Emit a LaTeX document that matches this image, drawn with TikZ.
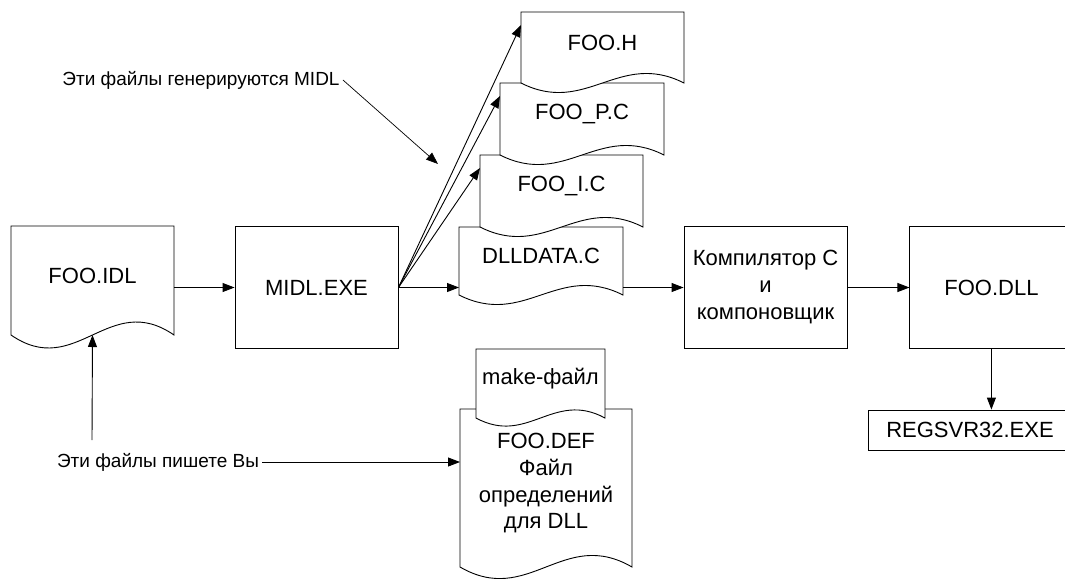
\documentclass[tikz,border=0pt]{standalone}
\usepackage{fontspec}
\setmainfont{Liberation Sans}
\usetikzlibrary{arrows.meta, positioning, calc}

\newcommand{\docfile}[6]{% name, top left, width, height, wave, text
  \filldraw[docline] (#2) -- ++(#3,0) -- ++(0,#4)
    .. controls +(-0.4*#3,-#5) and +(0.4*#3,#5) .. ++(-#3,0) -- cycle;
  \node[docarea, minimum width=#3, minimum height=#4, anchor=north west] (#1) at (#2) {};
  \node[doctext] (#1-t) at ([yshift=5pt]#1.center) {#6};
}

\begin{document}
\begin{tikzpicture}[x=1pt, y=-1pt, line width=0.9pt, node distance={62pt},
    box/.style = {draw, fill=white, minimum width=163, minimum height=122, inner sep=0, align=center, font=\fontsize{22}{27}\selectfont},
    docline/.style = {draw, fill=white},
    docarea/.style = {inner sep=0, outer sep=0},
    doctext/.style = {align=center, font=\fontsize{22}{27}\selectfont},
    note/.style = {font=\fontsize{19}{23}\selectfont, inner sep=3pt},
    arr/.style = {-{Triangle[length=12pt,width=9pt]}}]
            \path[use as bounding box] (0,0) rectangle (1065,579);
            \clip (0,0) rectangle (1065,579);

            \docfile{idl}{11,226}{163}{109}{45}{FOO.IDL}
            \node[box] (midl) at (316.5,287.5) {MIDL.EXE};

            \docfile{dlldata}{459,227}{164}{68}{33}{DLLDATA.C}
            \docfile{fooi}{480,155}{163}{72}{33}{FOO\_I.C}
            \docfile{foop}{500,83}{164}{72}{33}{FOO\_P.C}
            \docfile{fooh}{521,12}{163}{71}{33}{FOO.H}

            \docfile{def}{460,409}{172}{158}{40}{FOO.DEF\\Файл\\определений\\для DLL}
            \docfile{make}{476,349}{129}{69}{28}{make-файл}

            \node[box] (cc) at (765.5,287.5) {Компилятор С\\и\\компоновщик};
            \node[box] (dll) [right=of cc] {FOO.DLL};
            \node[box, minimum width=204, minimum height=40] (reg) at (970,430) {REGSVR32.EXE};

            \node[note] (genlabel) at (201,80) {Эти файлы генерируются MIDL};
            \coordinate (gentip) at (438,164);
            \node[note] (ownlabel) at (158,462) {Эти файлы пишете Вы};
            \coordinate (ownsrc) at (92,440);

            \draw[arr] (midl.west -| idl.east) -- (midl.west);
            \draw[arr] (midl.east) -- (midl.east -| dlldata.west);
            \draw[arr] (midl.east) -- ($(fooi.north west)+(0,13)$);
            \draw[arr] (midl.east) -- ($(foop.north west)+(0,13)$);
            \draw[arr] (midl.east) -- ($(fooh.north west)+(0,13)$);
            \draw[arr] (cc.west -| dlldata.east) -- (cc.west);
            \draw[arr] (cc) -- (dll);
            \draw[arr] (dll.south) -- (dll.south |- reg.north);

            \draw[arr, line width=0.7pt] (genlabel.east) -- (gentip);
            \draw[arr] (ownsrc) -- (idl.south);
            \draw[arr] (ownlabel.east) -- (ownlabel.east -| def.west);
        \end{tikzpicture}
\end{document}
